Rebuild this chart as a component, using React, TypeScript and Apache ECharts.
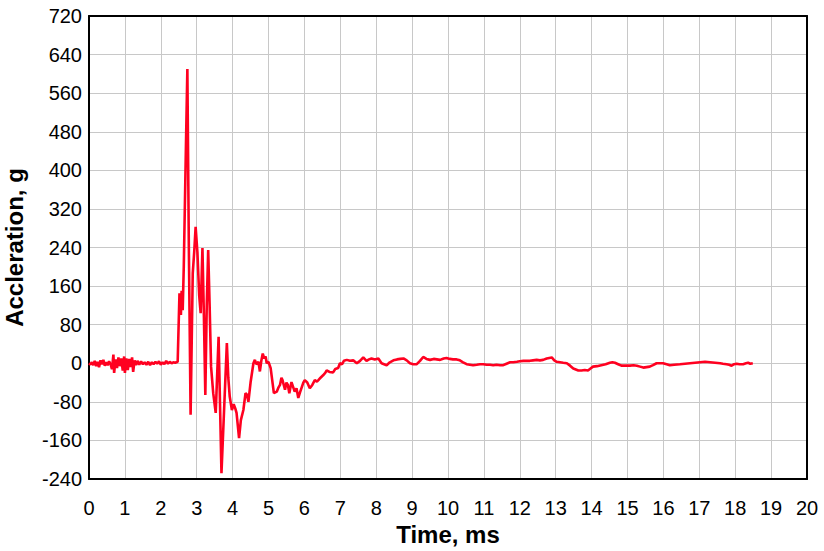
import React, { useEffect, useRef } from "react";
import * as echarts from "echarts";

const timeMs: number[] = [
  0.0, 0.04, 0.08, 0.12, 0.16, 0.2, 0.24, 0.28, 0.32, 0.36, 0.4, 0.44, 0.48, 0.52, 0.56, 0.6, 0.64, 0.68, 0.7, 0.74,
  0.78, 0.82, 0.86, 0.9, 0.94, 0.98, 1.0, 1.04, 1.08, 1.12, 1.16, 1.2, 1.23, 1.27, 1.31, 1.35, 1.4, 1.45, 1.5, 1.55,
  1.6, 1.65, 1.7, 1.75, 1.8, 1.85, 1.9, 1.95, 2.0, 2.05, 2.1, 2.15, 2.2, 2.25, 2.3, 2.35, 2.4, 2.47, 2.52, 2.56,
  2.58, 2.61, 2.64, 2.7, 2.74, 2.78, 2.83, 2.89, 2.93, 2.97, 3.02, 3.07, 3.11, 3.16, 3.2, 3.24, 3.28, 3.32, 3.36, 3.4,
  3.46, 3.53, 3.61, 3.69, 3.84, 3.88, 3.92, 3.98, 4.03, 4.08, 4.11, 4.18, 4.23, 4.3, 4.36, 4.4, 4.44, 4.5, 4.58, 4.62,
  4.66, 4.69, 4.72, 4.76, 4.8, 4.84, 4.88, 4.92, 4.95, 5.0, 5.06, 5.15, 5.23, 5.28, 5.32, 5.36, 5.39, 5.46, 5.5, 5.54,
  5.58, 5.64, 5.69, 5.73, 5.78, 5.83, 5.88, 5.93, 5.97, 6.01, 6.08, 6.15, 6.22, 6.29, 6.35, 6.39, 6.45, 6.52, 6.58, 6.62,
  6.7, 6.8, 6.86, 6.94, 6.99, 7.05, 7.1, 7.18, 7.27, 7.36, 7.46, 7.55, 7.64, 7.73, 7.8, 7.87, 7.96, 8.06, 8.15, 8.22,
  8.29, 8.38, 8.48, 8.58, 8.67, 8.76, 8.85, 8.94, 9.03, 9.13, 9.22, 9.31, 9.4, 9.5, 9.6, 9.69, 9.78, 9.88, 9.96, 10.05,
  10.14, 10.24, 10.33, 10.42, 10.52, 10.61, 10.7, 10.8, 10.89, 10.98, 11.08, 11.17, 11.26, 11.35, 11.45, 11.54, 11.63, 11.73, 11.82, 11.92,
  12.0, 12.1, 12.19, 12.28, 12.37, 12.47, 12.56, 12.65, 12.75, 12.82, 12.89, 12.96, 13.03, 13.12, 13.21, 13.31, 13.4, 13.49, 13.56, 13.63,
  13.72, 13.81, 13.9, 13.97, 14.04, 14.15, 14.27, 14.39, 14.51, 14.58, 14.65, 14.74, 14.83, 14.95, 15.07, 15.17, 15.26, 15.35, 15.44, 15.53,
  15.62, 15.71, 15.81, 15.9, 15.99, 16.09, 16.18, 16.3, 16.46, 16.6, 16.74, 16.88, 17.02, 17.16, 17.3, 17.44, 17.58, 17.66, 17.76, 17.83,
  17.9, 17.97, 18.04, 18.12, 18.22, 18.3, 18.36, 18.42, 18.49,
];

const accelG: number[] = [
  0, -3, 2, -4, 5, -6, 3, -8, 6, -2, 7, -5, 2, -4, 4, -2, -12, 18, -20, 8,
  -10, 12, -6, 10, -15, 14, -20, 10, -14, 9, -8, 12, -18, 6, -4, 5, -3, 4, -2, 2,
  -3, 3, -4, 2, -2, 3, -1, 4, -3, 2, -2, 5, -1, 3, 0, 2, 1, 3, 145, 100,
  150, 110, 200, 450, 610, 250, -107, 187, 230, 283, 230, 140, 104, 239, 100, -66, 120, 235, 120, -7,
  -62, -103, 55, -228, 42, -30, -69, -97, -85, -95, -103, -155, -118, -97, -62, -65, -80, -40, 0, 7,
  -2, 0, 3, -17, 5, 20, 10, 14, 0, 3, -10, -62, -59, -50, -45, -30, -35, -55, -40, -45,
  -62, -39, -50, -59, -52, -72, -60, -49, -40, -35, -40, -52, -45, -35, -38, -35, -30, -25, -20, -15,
  -18, -19, -12, -10, 0, -2, 5, 7, 5, 6, 0, 5, 12, 5, 8, 10, 8, 10, 0, -2,
  -4, 2, 6, 8, 9, 10, 6, 0, -2, -2, 5, 13, 9, 7, 9, 8, 7, 10, 11, 9,
  8, 8, 6, 2, -2, -3, -4, -3, -2, -2, -3, -3, -4, -3, -4, -4, -1, 2, 2, 3,
  4, 5, 5, 5, 6, 7, 6, 7, 10, 11, 12, 6, 3, 2, 1, 0, -5, -11, -13, -15,
  -15, -14, -15, -11, -7, -6, -4, -2, 1, 2, 1, -2, -5, -5, -5, -4, -5, -7, -9, -8,
  -7, -4, 0, 0, 0, -2, -4, -3, -2, -1, 0, 1, 2, 3, 2, 1, 0, -1, -2, -3,
  -5, -2, -1, -2, -2, 0, 1, -1, 0,
];

const xTitle = "Time, ms";
const yTitle = "Accleration, g";

export default function App() {
  const ref = useRef<HTMLDivElement>(null);
  useEffect(() => {
    if (!ref.current) return;
    const chart = echarts.init(ref.current, undefined, { renderer: "svg" });
    const font = "'Liberation Sans', Arial, sans-serif";
    const frameAxis = {
      axisLine: { show: true, onZero: false, lineStyle: { color: "#000", width: 2 } },
      axisTick: { show: false },
      axisLabel: { show: false },
      splitLine: { show: false },
    };
    chart.setOption({
      animation: false,
      backgroundColor: "#ffffff",
      grid: { left: 89, right: 17, top: 16, bottom: 72, outerBoundsMode: "none", containLabel: false },
      xAxis: [
        {
          type: "value",
          min: 0,
          max: 20,
          interval: 1,
          name: xTitle,
          nameLocation: "middle",
          nameGap: 43,
          nameTextStyle: { fontFamily: font, fontSize: 24, fontWeight: "bold", color: "#000" },
          axisLine: { show: true, onZero: false, lineStyle: { color: "#000", width: 2 } },
          axisTick: { show: false },
          axisLabel: { fontFamily: font, fontSize: 20, color: "#000", margin: 19 },
          splitLine: { show: true, lineStyle: { color: "#c8c8c8", width: 1 } },
        },
        { type: "value", position: "top", min: 0, max: 20, interval: 1, ...frameAxis },
      ],
      yAxis: [
        {
          type: "value",
          min: -240,
          max: 720,
          interval: 80,
          name: yTitle,
          nameLocation: "middle",
          nameGap: 63,
          nameTextStyle: { fontFamily: font, fontSize: 24, fontWeight: "bold", color: "#000" },
          axisLine: { show: true, onZero: false, lineStyle: { color: "#000", width: 2 } },
          axisTick: { show: false },
          axisLabel: { fontFamily: font, fontSize: 20, color: "#000", margin: 7 },
          splitLine: { show: true, lineStyle: { color: "#c8c8c8", width: 1 } },
        },
        { type: "value", position: "right", min: -240, max: 720, interval: 80, ...frameAxis },
      ],
      series: [
        {
          type: "line",
          xAxisIndex: 0,
          yAxisIndex: 0,
          data: timeMs.map((t, i) => [t, accelG[i]]),
          showSymbol: false,
          lineStyle: { color: "#ff0020", width: 2.6 },
          itemStyle: { color: "#ff0020" },
        },
      ],
    });
    return () => chart.dispose();
  }, []);
  return (
    <div
      ref={ref}
      style={{ position: "absolute", left: 0, top: 0, width: 824, height: 551 }}
    />
  );
}
